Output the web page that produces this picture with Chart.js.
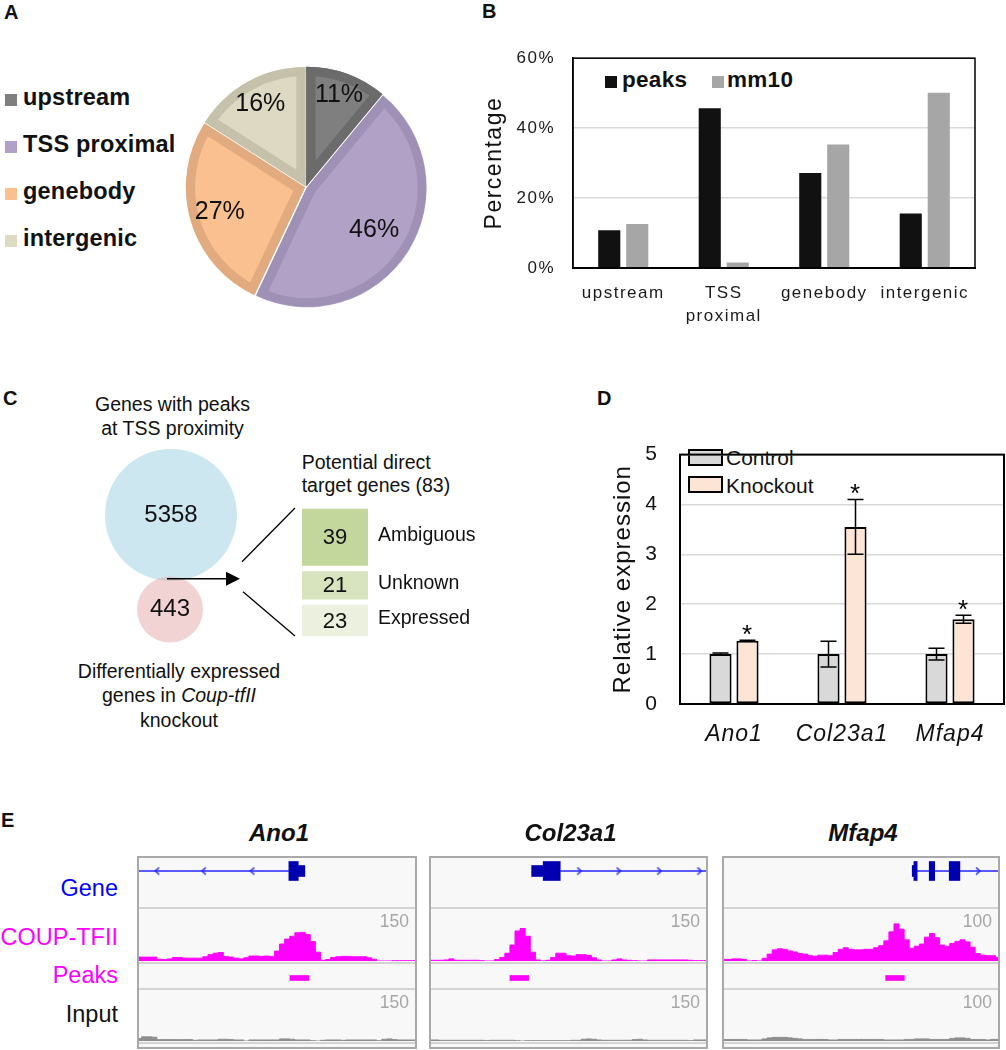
<!DOCTYPE html>
<html>
<head>
<meta charset="utf-8">
<title>COUP-TFII binding figure</title>
<script src="https://cdn.jsdelivr.net/npm/chart.js@4.4.1/dist/chart.umd.min.js"></script>
<style>
html,body{margin:0;padding:0;background:#fff;}
body{position:relative;width:1006px;height:1050px;overflow:hidden;font-family:"Liberation Sans",Arial,Helvetica,sans-serif;color:#111;}
.t{position:absolute;white-space:nowrap;}
canvas{position:absolute;display:block;}
.box{position:absolute;box-sizing:border-box;}
</style>
</head>
<body>
<script>
// ================= DATA =================
// Panel A / B
const pieCategories = ['upstream', 'TSS proximal', 'genebody', 'intergenic'];
const peakSharePct = [11, 46, 27, 16];
const seriesNames = ['peaks', 'mm10'];
const peaksPct = [10.8, 45.7, 27.2, 15.6];
const mm10Pct = [12.6, 1.6, 35.3, 50.1];
const pctTickValues = [0, 20, 40, 60];
// Panel C
const vennSets = ['Genes with peaks at TSS proximity', 'Differentially expressed genes in Coup-tfII knockout'];
const vennCounts = [5358, 443];
const targetClasses = ['Ambiguous', 'Unknown', 'Expressed'];
const targetCounts = [39, 21, 23];
// Panel D
const qpcrGroups = ['Control', 'Knockout'];
const qpcrGenes = ['Ano1', 'Col23a1', 'Mfap4'];
const controlMean = [1.00, 1.00, 1.00];
const controlErr = [0.02, 0.26, 0.12];
const knockoutMean = [1.27, 3.55, 1.70];
const knockoutErr = [0.01, 0.55, 0.08];
const knockoutSignificant = [true, true, true];
const exprTickValues = [0, 1, 2, 3, 4, 5];
// Panel E
const trackLoci = ['Ano1', 'Col23a1', 'Mfap4'];
const trackNames = ['Gene', 'COUP-TFII', 'Peaks', 'Input'];
const trackMax = [150, 150, 100];
const coupAno1 = [11,11,11,11,5,4,6,10,10,8, 8,8,8,12,18,22,24,13,11,8, 6,9,14,14,13,14,13,28,48,62, 70,80,81,75,55,25,2,4,10,12, 13,13,12,12,12,9,5,0,0,0, 1,1,1,1,1];
const coupCol23a1 = [2,2,2,3,6,2,2,2,2,2, 1,0,0,4,10,22,45,85,92,70, 25,3,0,2,10,22,22,15,14,18, 18,16,9,3,0,0,3,6,3,2, 1,0,0,3,3,3,3,3,3,3, 3,2,1,1,1];
const coupMfap4 = [3,3,4,4,3,0,1,0,5,13, 21,23,22,19,17,14,13,10,9,11, 11,10,16,22,25,22,21,21,22,22, 25,29,38,55,70,60,40,24,28,32, 45,52,44,30,28,33,37,40,36,26, 14,11,10,10,7];
const inputAno1 = [7,12,12,11,4,4,4,4,4,4, 4,2,3,3,3,3,5,5,4,3, 3,0,3,3,3,3,3,3,6,6, 5,3,3,3,1,0,2,3,3,3, 2,3,3,3,3,3,3,1,5,6, 4,3,3,3,3];
const inputCol23a1 = [3,3,2,2,2,2,2,2,2,2, 2,1,2,2,2,2,2,1,0,1, 1,1,1,1,1,1,1,1,2,2, 5,6,5,3,2,2,2,2,2,2, 4,5,3,2,2,2,2,2,2,2, 2,1,3,3,3];
const inputMfap4 = [3,3,3,3,3,2,2,2,4,6, 7,7,7,6,5,4,3,3,3,3, 3,2,2,3,3,3,3,3,3,3, 3,3,2,2,2,2,3,3,4,4, 4,3,3,3,3,5,6,6,5,3, 3,3,2,3,3];
// gene models, in % of the displayed window
const geneIntron = [[0, 54.3], [47.0, 100], [69.7, 100]];
const geneExonThick = [[[54.3, 57.7]], [[40.8, 47.0]], [[69.3, 70.5], [74.9, 76.9], [82.2, 86.1]]];
const geneExonThin = [[[57.7, 60.1]], [[36.6, 40.8]], [[68.7, 69.3]]];
const geneChevrons = [[6.6, 23.5, 41.1], [53.9, 68.2, 83.0, 97.6], [92.7]];
const geneStrand = [-1, 1, 1];
const peakIntervals = [[[54.7, 61.6]], [[28.7, 35.5]], [[59.0, 65.8]]];

// ================= STYLES / HELPERS =================
const FONT = '"Liberation Sans", Arial, Helvetica, sans-serif';
Chart.defaults.font.family = FONT;
Chart.defaults.color = '#111';
Chart.defaults.layout.autoPadding = false;
const pieFill = ['#7f7f7f', '#b2a1c7', '#fac090', '#ddd9c3'];
const pieEdge = ['#6b6b6b', '#9f90b5', '#e2ab7f', '#c6c1aa'];
const barFill = ['#111111', '#a6a6a6'];
const qpcrFill = ['#d9d9d9', '#fde5d5'];
const targetFill = ['#c3d69b', '#d7e4bd', '#ebf1de'];
const GENE_LINE = '#2424ff', EXON = '#0000b0', MAGENTA = '#ff00ff', INPUT_GRAY = '#8e8e8e';

function cv(left, top, w, h) {
  const c = document.createElement('canvas');
  c.width = w; c.height = h;
  c.style.left = left + 'px'; c.style.top = top + 'px';
  c.style.width = w + 'px'; c.style.height = h + 'px';
  document.body.appendChild(c);
  return c;
}
function txt(html, x, base, size, o) {
  o = o || {};
  const d = document.createElement('div');
  d.className = 't';
  d.innerHTML = html;
  const s = d.style;
  s.fontSize = size + 'px'; s.lineHeight = size + 'px';
  s.top = (base - 0.8465 * size).toFixed(1) + 'px';
  s.left = x + 'px';
  if (o.bold) s.fontWeight = 'bold';
  if (o.italic) s.fontStyle = 'italic';
  if (o.color) s.color = o.color;
  if (o.ls) s.letterSpacing = o.ls + 'px';
  if (o.align === 'right') s.transform = 'translateX(-100%)';
  else if (o.align === 'center') s.transform = 'translateX(-50%)';
  document.body.appendChild(d);
  return d;
}
function box(left, top, w, h, bg, border) {
  const d = document.createElement('div');
  d.className = 'box';
  Object.assign(d.style, {left: left + 'px', top: top + 'px', width: w + 'px', height: h + 'px', background: bg});
  if (border) d.style.border = border;
  document.body.appendChild(d);
  return d;
}
function baseOptions(extra) {
  const o = {responsive: false, animation: false, events: [], devicePixelRatio: 1,
    layout: {padding: 0, autoPadding: false},
    plugins: {legend: {display: false}, tooltip: {enabled: false}}};
  for (const k in extra) {
    if (k === 'plugins') Object.assign(o.plugins, extra.plugins); else o[k] = extra[k];
  }
  return o;
}
const letterSpacingPlugin = {id: 'ls', beforeDraw(chart, args, o) { chart.ctx.letterSpacing = (o.px || 0) + 'px'; }};
const framePlugin = {id: 'frame', afterDatasetsDraw(chart, args, o) {
  const {ctx, chartArea: a} = chart;
  ctx.save(); ctx.strokeStyle = '#000'; ctx.lineWidth = o.width || 1.5;
  ctx.strokeRect(a.left, a.top, a.right - a.left, a.bottom - a.top);
  ctx.restore();
}};

// ================= PANEL LETTERS =================
txt('A', 4, 18.5, 20, {bold: true});
txt('B', 482, 18, 20, {bold: true});
txt('C', 3, 405, 20, {bold: true});
txt('D', 597, 405, 20, {bold: true});
txt('E', 1, 827, 20, {bold: true});

// ================= PANEL A: pie =================
const legendBaselines = [106, 153, 200, 247];
pieCategories.forEach((c, i) => {
  box(5, legendBaselines[i] - 12, 12, 12, pieFill[i]);
  txt(c, 23, legendBaselines[i], 23.5, {bold: true, ls: 0.2});
});
const pieLabelPlugin = {id: 'pieLabels', afterDatasetsDraw(chart) {
  const ctx = chart.ctx, meta = chart.getDatasetMeta(0);
  ctx.save(); ctx.font = '25px ' + FONT; ctx.fillStyle = '#111';
  ctx.textAlign = 'center'; ctx.textBaseline = 'middle';
  meta.data.forEach((arc, i) => {
    const a = (arc.startAngle + arc.endAngle) / 2;
    const frac = peakSharePct[i] / 100;
    const r = arc.outerRadius * (0.62 + 0.2 * (1 - 2 * frac)) + 5;
    ctx.fillText(peakSharePct[i] + '%', arc.x + Math.cos(a) * r, arc.y + Math.sin(a) * r);
  });
  ctx.restore();
}};
new Chart(cv(180, 61, 252, 252), {
  type: 'pie',
  data: {labels: pieCategories, datasets: [{data: peakSharePct, backgroundColor: pieFill, borderColor: pieEdge,
    borderWidth: 9, borderAlign: 'inner', offset: 5, radius: 119}]},
  options: baseOptions({}),
  plugins: [pieLabelPlugin]
});

// ================= PANEL B: bars =================
box(605, 76, 12, 12, barFill[0]);
txt(seriesNames[0], 622, 88, 22.5, {bold: true, ls: 0.3});
box(712, 76, 12, 12, barFill[1]);
txt(seriesNames[1], 727, 88, 22.5, {bold: true, ls: 0.3});
new Chart(cv(460, 30, 546, 310), {
  type: 'bar',
  data: {labels: pieCategories.map(s => s.split(' ')), datasets: [
    {label: seriesNames[0], data: peaksPct, backgroundColor: barFill[0], categoryPercentage: 0.557, barPercentage: 0.79},
    {label: seriesNames[1], data: mm10Pct, backgroundColor: barFill[1], categoryPercentage: 0.557, barPercentage: 0.79}
  ]},
  options: baseOptions({
    layout: {padding: {top: 22, right: 31, bottom: 0, left: 0}, autoPadding: false},
    plugins: {frame: {width: 1.5}, ls: {px: 1.5}},
    scales: {
      x: {grid: {display: false, drawTicks: false}, border: {display: true, color: '#000', width: 2},
        ticks: {font: {size: 17, lineHeight: 1.35}, color: '#1a1a1a', padding: 13.5, maxRotation: 0, autoSkip: false},
        afterFit(s) { s.height = 72; }},
      y: {min: 0, max: 60,
        afterBuildTicks(s) { s.ticks = pctTickValues.map(v => ({value: v})); },
        ticks: {callback: v => v + '%', font: {size: 17}, color: '#1a1a1a', padding: 18},
        grid: {color: '#d9d9d9', lineWidth: 1.5, drawTicks: false},
        border: {display: true, color: '#000', width: 1.5},
        title: {display: true, text: 'Percentage', font: {size: 23}, color: '#111', padding: {top: 21, bottom: 0}},
        afterFit(s) { s.width = 113; }}
    }
  }),
  plugins: [letterSpacingPlugin, framePlugin]
});

// ================= PANEL C: overlap diagram =================
txt('Genes with peaks', 172.5, 411.7, 19.5, {align: 'center'});
txt('at TSS proximity', 172.5, 435, 19.5, {align: 'center'});
txt('Potential direct', 301.7, 469.3, 19.5);
txt('target genes (' + targetCounts.reduce((a, b) => a + b, 0) + ')', 301.7, 492.7, 19.5);
txt('Differentially expressed', 179, 678.3, 19.5, {align: 'center'});
txt('genes in <i>Coup-tfII</i>', 179, 702.3, 19.5, {align: 'center'});
txt('knockout', 179, 727.3, 19.5, {align: 'center'});

const vennPlugin = {id: 'venn', afterDatasetsDraw(chart) {
  const ctx = chart.ctx;
  const big = chart.getDatasetMeta(0).data[0], small = chart.getDatasetMeta(1).data[0];
  ctx.save();
  ctx.font = '24px ' + FONT; ctx.fillStyle = '#111'; ctx.textAlign = 'center'; ctx.textBaseline = 'middle';
  ctx.fillText(String(vennCounts[0]), big.x, big.y);
  ctx.fillText(String(vennCounts[1]), small.x, small.y);
  // arrow from the overlap to the breakdown
  const yA = ((big.y + big.options.radius) + (small.y - small.options.radius)) / 2;
  ctx.strokeStyle = '#000'; ctx.fillStyle = '#000'; ctx.lineWidth = 1.5;
  ctx.beginPath(); ctx.moveTo(big.x - 4, yA); ctx.lineTo(128, yA); ctx.stroke();
  ctx.beginPath(); ctx.moveTo(140, yA); ctx.lineTo(126, yA - 7); ctx.lineTo(126, yA + 7); ctx.closePath(); ctx.fill();
  ctx.lineWidth = 1.3;
  ctx.beginPath(); ctx.moveTo(142, yA - 17); ctx.lineTo(195, 68); ctx.moveTo(143, yA + 13); ctx.lineTo(195, 196); ctx.stroke();
  ctx.restore();
}};
new Chart(cv(100, 440, 200, 215), {
  type: 'scatter',
  data: {datasets: [
    {label: vennSets[0], data: [{x: 71, y: 75}], backgroundColor: '#cce7ef', borderWidth: 0, pointRadius: 66, hoverRadius: 66, clip: false, order: 2},
    {label: vennSets[1], data: [{x: 70, y: 169.5}], backgroundColor: 'rgba(228,168,168,0.5)', borderWidth: 0, pointRadius: 33, hoverRadius: 33, clip: false, order: 1}
  ]},
  options: baseOptions({scales: {
    x: {type: 'linear', min: 0, max: 200, display: false},
    y: {type: 'linear', min: 0, max: 215, reverse: true, display: false}}}),
  plugins: [vennPlugin]
});

const targetLabelPlugin = {id: 'targetLabels', afterDatasetsDraw(chart) {
  const ctx = chart.ctx, a = chart.chartArea;
  ctx.save(); ctx.fillStyle = '#111'; ctx.textBaseline = 'middle';
  chart.data.datasets.forEach((ds, i) => {
    const bar = chart.getDatasetMeta(i).data[0];
    const yc = (bar.y + bar.base) / 2;
    ctx.font = '22px ' + FONT; ctx.textAlign = 'center';
    ctx.fillText(String(ds.data[0]), bar.x, yc + 1);
    ctx.font = '19.5px ' + FONT; ctx.textAlign = 'left';
    ctx.fillText(ds.label, a.right + 10, yc - 2);
  });
  ctx.restore();
}};
new Chart(cv(302, 506, 200, 133), {
  type: 'bar',
  data: {labels: ['targets'], datasets: targetCounts.map((v, i) => ({
    label: targetClasses[i], data: [v], backgroundColor: targetFill[i], borderColor: '#ffffff',
    borderWidth: {top: 3, bottom: 3, left: 0, right: 0}, borderSkipped: false,
    barPercentage: 1, categoryPercentage: 1}))},
  options: baseOptions({
    layout: {padding: {right: 134}, autoPadding: false},
    scales: {
      x: {display: false, stacked: true},
      y: {display: false, stacked: true, min: 0, max: targetCounts.reduce((a, b) => a + b, 0), reverse: true}}
  }),
  plugins: [targetLabelPlugin]
});

// ================= PANEL D: qPCR =================
box(688, 449, 35, 17, qpcrFill[0], '2px solid #000');
txt(qpcrGroups[0], 726, 465, 21);
box(688, 476, 35, 17, qpcrFill[1], '2px solid #000');
txt(qpcrGroups[1], 726, 492.3, 21);
const errorBarPlugin = {id: 'errbars', afterDatasetsDraw(chart) {
  const ctx = chart.ctx, y = chart.scales.y;
  const errs = [controlErr, knockoutErr];
  ctx.save(); ctx.strokeStyle = '#000'; ctx.fillStyle = '#000'; ctx.lineWidth = 1.5;
  chart.data.datasets.forEach((ds, di) => {
    chart.getDatasetMeta(di).data.forEach((bar, j) => {
      const m = ds.data[j], e = errs[di][j];
      const yt = y.getPixelForValue(m + e), yb = y.getPixelForValue(m - e);
      ctx.beginPath();
      ctx.moveTo(bar.x, yt); ctx.lineTo(bar.x, yb);
      ctx.moveTo(bar.x - 8, yt); ctx.lineTo(bar.x + 8, yt);
      ctx.moveTo(bar.x - 8, yb); ctx.lineTo(bar.x + 8, yb);
      ctx.stroke();
      if (di === 1 && knockoutSignificant[j]) {
        ctx.font = '26px ' + FONT; ctx.textAlign = 'center'; ctx.textBaseline = 'alphabetic';
        ctx.fillText('*', bar.x, yt + 3);
      }
    });
  });
  ctx.restore();
}};
new Chart(cv(560, 420, 446, 345), {
  type: 'bar',
  data: {labels: qpcrGenes, datasets: [
    {label: qpcrGroups[0], data: controlMean, backgroundColor: qpcrFill[0], borderColor: '#000', borderWidth: 2, borderSkipped: false, categoryPercentage: 0.5, barPercentage: 0.82},
    {label: qpcrGroups[1], data: knockoutMean, backgroundColor: qpcrFill[1], borderColor: '#000', borderWidth: 2, borderSkipped: false, categoryPercentage: 0.5, barPercentage: 0.82}
  ]},
  options: baseOptions({
    layout: {padding: {top: 23, right: 2, bottom: 0, left: 0}, autoPadding: false},
    plugins: {frame: {width: 2}, ls: {px: 1}},
    scales: {
      x: {grid: {display: false, drawTicks: false}, border: {display: true, color: '#000', width: 2},
        ticks: {font: {size: 23, style: 'italic'}, color: '#111', padding: 17},
        afterFit(s) { s.height = 61; }},
      y: {min: 0, max: 5,
        afterBuildTicks(s) { s.ticks = exprTickValues.map(v => ({value: v})); },
        ticks: {font: {size: 21}, color: '#111', padding: 22},
        grid: {color: '#d9d9d9', lineWidth: 1.5, drawTicks: false},
        border: {display: true, color: '#000', width: 2},
        title: {display: true, text: 'Relative expression', font: {size: 24}, color: '#111', padding: {top: 48.6, bottom: 0}},
        afterFit(s) { s.width = 120; }}
    }
  }),
  plugins: [letterSpacingPlugin, framePlugin, errorBarPlugin]
});

// ================= PANEL E: genome tracks =================
const trackLabelColors = ['#0000ff', MAGENTA, MAGENTA, '#111'];
const trackLabelBase = [896.7, 945.7, 984, 1023.3];
trackNames.forEach((n, i) => txt(n, 118, trackLabelBase[i], 23.5, {align: 'right', color: trackLabelColors[i]}));

function chevron(dir) {
  const c = document.createElement('canvas');
  c.width = 6; c.height = 9;
  const g = c.getContext('2d');
  g.strokeStyle = GENE_LINE; g.lineWidth = 1.5;
  g.beginPath();
  if (dir > 0) { g.moveTo(1, 1); g.lineTo(5, 4.5); g.lineTo(1, 8); }
  else { g.moveTo(5, 1); g.lineTo(1, 4.5); g.lineTo(5, 8); }
  g.stroke();
  return c;
}
const trackScales = {
  x: {type: 'linear', min: 0, max: 100, display: false, offset: false},
  y: {type: 'linear', min: -1, max: 1, display: false, offset: false}};
function geneChart(canvas, k) {
  return new Chart(canvas, {
    type: 'bar',
    data: {datasets: [
      {type: 'line', data: geneIntron[k].map(x => ({x, y: 0})), borderColor: GENE_LINE, borderWidth: 1.5, pointRadius: 0, order: 3},
      {type: 'line', data: geneChevrons[k].map(x => ({x, y: 0})), showLine: false, pointStyle: chevron(geneStrand[k]), pointRadius: 4, order: 2},
      {type: 'bar', indexAxis: 'y', data: geneExonThick[k].map(r => ({x: r, y: 0})), backgroundColor: EXON, barThickness: 19, grouped: false, order: 1},
      {type: 'bar', indexAxis: 'y', data: geneExonThin[k].map(r => ({x: r, y: 0})), backgroundColor: EXON, barThickness: 11, grouped: false, order: 1}
    ]},
    options: baseOptions({scales: trackScales})
  });
}
function peakChart(canvas, k) {
  return new Chart(canvas, {
    type: 'bar',
    data: {datasets: [{indexAxis: 'y', data: peakIntervals[k].map(r => ({x: r, y: 0})), backgroundColor: MAGENTA, barThickness: 5, grouped: false}]},
    options: baseOptions({scales: trackScales})
  });
}
function signalChart(canvas, values, max, color) {
  return new Chart(canvas, {
    type: 'line',
    data: {labels: values.map((_, i) => i), datasets: [{data: values, fill: 'origin', stepped: 'middle',
      backgroundColor: color, borderColor: color, borderWidth: 1, pointRadius: 0, hoverRadius: 0}]},
    options: baseOptions({scales: {x: {display: false, offset: false}, y: {display: false, min: 0, max: max}}})
  });
}
const coupTracks = [coupAno1, coupCol23a1, coupMfap4];
const inputTracks = [inputAno1, inputCol23a1, inputMfap4];
const trackCols = [{left: 137, width: 280}, {left: 429, width: 279}, {left: 722, width: 278}];
trackCols.forEach((c, k) => {
  box(c.left, 856, c.width, 193, '#f8f8f8', '2px solid #a9a9a9');
  [906.5, 961.5, 988, 1042].forEach(y => box(c.left + 2, y, c.width - 4, 2, '#d4d4d4'));
  const il = c.left + 2, iw = c.width - 4;
  geneChart(cv(il, 857, iw, 28), k);
  signalChart(cv(il, 908, iw, 53), coupTracks[k], trackMax[k], MAGENTA);
  peakChart(cv(il, 966, iw, 24), k);
  signalChart(cv(il, 989, iw, 52), inputTracks[k], trackMax[k], INPUT_GRAY);
  txt(String(trackMax[k]), c.left + c.width - 8, 927.3, 17.5, {align: 'right', color: '#a6a6a6'});
  txt(String(trackMax[k]), c.left + c.width - 8, 1008.3, 17.5, {align: 'right', color: '#a6a6a6'});
  txt(trackLoci[k], c.left + c.width / 2 + 2, 841.7, 24, {align: 'center', bold: true, italic: true});
});
</script>
</body>
</html>
